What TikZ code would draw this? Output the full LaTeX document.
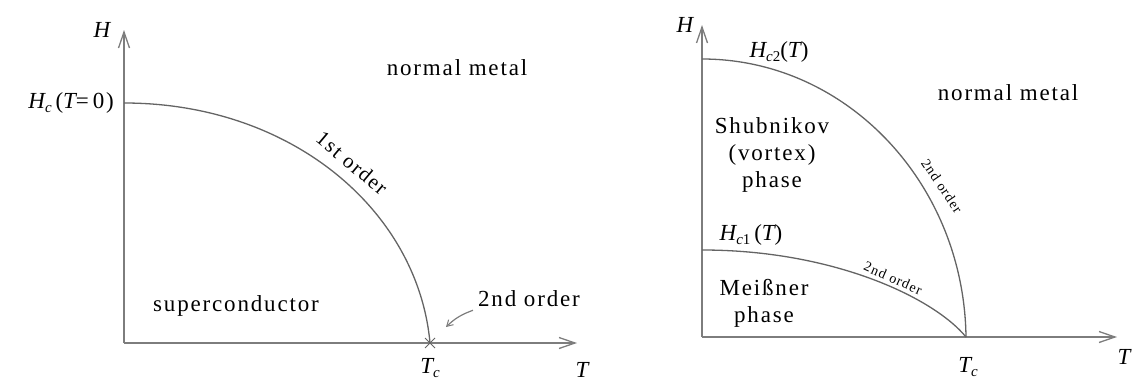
\documentclass[tikz,border=0pt]{standalone}
\usepackage{fontspec}
\setmainfont[LetterSpace=8]{Liberation Serif}
\usetikzlibrary{arrows.meta}
\definecolor{axgray}{RGB}{125,125,125}
\definecolor{cvgray}{RGB}{100,100,100}
\newcommand\mysub[1]{\raisebox{-0.4ex}{\fontsize{15}{15}\selectfont #1}}
\tikzset{
  axisline/.style={draw=axgray, line width=1.8pt, -{Straight Barb[length=16pt,width=11pt,line width=1.3pt]}},
  pcurve/.style={draw=cvgray, line width=1.3pt},
  lbl/.style={font=\fontsize{23}{27}\selectfont, inner sep=0pt, align=center},
  slbl/.style={font=\fontsize{14}{15}\selectfont, inner sep=0pt},
  ptr/.style={draw=axgray, line width=1.2pt, -{Straight Barb[length=6pt,width=7pt,line width=1pt]}},
}
\begin{document}
\begin{tikzpicture}[x=1pt,y=-1pt]
\path[use as bounding box] (0,0) rectangle (1132,383);

% ---------- left diagram ----------
\coordinate (O1) at (124,343);
\coordinate (Y1) at (124,30);
\coordinate (X1) at (577,343);
\coordinate (Hc) at (124,103);
\coordinate (Tc1) at (430,343);
\draw[axisline] (O1) -- (Y1);
\draw[axisline] (O1) -- (X1);
\draw[pcurve] (Hc) .. controls (292,103) and (418,211) .. (Tc1);
\draw[cvgray, line width=1pt] ([shift={(-5,-5)}]Tc1) -- ([shift={(5,5)}]Tc1)
  ([shift={(-5,5)}]Tc1) -- ([shift={(5,-5)}]Tc1);

\node[lbl] (H1) at (102,30) {\itshape H};
\node[lbl, anchor=east] (hc0) at (114,103) {{\itshape H}\mysub{\itshape c}\,({\itshape T}=\,0)};
\node[lbl] (nm1) at (457,68) {normal metal};
\node[lbl, font=\fontsize{21}{22}\selectfont, rotate=-40] (first) at (352,163) {1st order};
\node[lbl] (sc) at (236,306) {superconductor};
\node[lbl] (snd) at (529,299) {2nd order};
\coordinate (tipA) at (446,327);
\draw[ptr] ([shift={(-5,3)}]snd.south west) to[bend right=12] (tipA);
\node[lbl] (tc1l) at (430,368) {{\itshape T}\mysub{\itshape c}};
\node[lbl] (T1) at (582,370) {\itshape T};

% ---------- right diagram ----------
\coordinate (O2) at (702,337);
\coordinate (Y2) at (702,25);
\coordinate (X2) at (1117,337);
\coordinate (Hc2) at (702,59);
\coordinate (Hc1) at (702,250);
\coordinate (Tc2) at (966,337);
\draw[axisline] (O2) -- (Y2);
\draw[axisline] (O2) -- (X2);
\draw[pcurve] (Hc2) .. controls (847,59) and (964,184) .. (Tc2);
\draw[pcurve] (Hc1) .. controls (834,250) and (934,298) .. (Tc2);

\node[lbl] (H2) at (685,25) {\itshape H};
\node[lbl] (hc2l) at (779,52) {{\itshape H}\mysub{{\itshape c}2}({\itshape T})};
\node[lbl] (nm2) at (1008,93) {normal metal};
\node[lbl] (shub) at (772,155) {Shubnikov\\(vortex)\\phase};
\node[slbl, rotate=-56] (o2a) at (942,186) {2nd order};
\node[lbl] (hc1l) at (751,235) {{\itshape H}\mysub{{\itshape c}1}\,({\itshape T})};
\node[slbl, rotate=-24] (o2b) at (893,278) {2nd order};
\node[lbl] (meis) at (764,303) {Meißner\\phase};
\node[lbl] (tc2l) at (968,367) {{\itshape T}\mysub{\itshape c}};
\node[lbl] (T2) at (1124,357) {\itshape T};
\end{tikzpicture}
\end{document}
